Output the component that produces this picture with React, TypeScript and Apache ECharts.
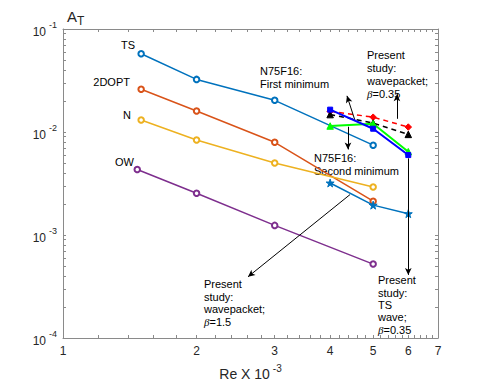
import React, { useEffect, useRef } from 'react';
import * as echarts from 'echarts';

// ---- data (Re x 10^-3 vs A_T) ----
const reRef = [1.5, 2, 3, 5];
const reOW = [1.47, 2, 3, 5];
const tsVals = [0.0575, 0.0324, 0.0203, 0.00745];
const doptVals = [0.026, 0.016, 0.00794, 0.00213];
const nVals = [0.0131, 0.00837, 0.005, 0.00292];
const owVals = [0.00432, 0.00254, 0.00124, 0.000522];

const rePresent = [4, 5, 6];
const tsWaveVals = [0.0032, 0.00195, 0.00161];
const wpBlueVals = [0.01648, 0.01076, 0.00597];
const wpGreenVals = [0.01143, 0.01202, 0.00644];
const n75RedVals = [0.0159, 0.01393, 0.01117];
const n75BlackVals = [0.01476, 0.01222, 0.00948];

// ---- ticks ----
const xLabelValues = [1, 2, 3, 4, 5, 6, 7];
const xTickValues = [
  1, 1.2, 1.4, 1.6, 1.8, 2, 2.2, 2.4, 2.6, 2.8, 3, 3.2, 3.4, 3.6, 3.8, 4, 4.2, 4.4, 4.6, 4.8,
  5, 5.2, 5.4, 5.6, 5.8, 6, 6.2, 6.4, 6.6, 6.8, 7,
];
const yLabelValues = [0.0001, 0.001, 0.01, 0.1];
const yTickValues = [
  0.0001, 0.0002, 0.0003, 0.0004, 0.0005, 0.0006, 0.0007, 0.0008, 0.0009,
  0.001, 0.002, 0.003, 0.004, 0.005, 0.006, 0.007, 0.008, 0.009,
  0.01, 0.02, 0.03, 0.04, 0.05, 0.06, 0.07, 0.08, 0.09, 0.1,
];

// ---- arrows (data coordinates: [from, to]) ----
const arrows: number[][][] = [
  [[4.55, 0.01294], [4.365, 0.02244]],
  [[4.388, 0.01125], [4.388, 0.00677]],
  [[5.657, 0.01343], [5.657, 0.02328]],
  [[4.435, 0.00247], [2.612, 0.000393]],
  [[6, 0.00555], [6, 0.00041]],
];

const FONT = '"Liberation Sans", Arial, Helvetica, sans-serif';
const AXIS_COLOR = '#8a8a8a';
const TEXT_COLOR = '#262626';
const STAR = 'path://M50,0 L61,35 L98,35 L68,57 L79,91 L50,70 L21,91 L32,57 L2,35 L39,35 Z';

const pairs = (xs: number[], ys: number[]) => xs.map((x, i) => [x, ys[i]]);

export default function App() {
  const ref = useRef<HTMLDivElement>(null);
  useEffect(() => {
    if (!ref.current) return;
    const chart = echarts.init(ref.current, null, { renderer: 'svg' });

    const ref4 = (name: string, xs: number[], ys: number[], color: string) => ({
      type: 'line',
      name,
      data: pairs(xs, ys),
      symbol: 'emptyCircle',
      symbolSize: 5.5,
      lineStyle: { color, width: 1.5 },
      itemStyle: { color, borderWidth: 1.3 },
      z: 2,
    });

    const present = (
      name: string, ys: number[], color: string, symbol: string, size: number,
      dashed: boolean, width: number, z: number
    ) => ({
      type: 'line',
      name,
      data: pairs(rePresent, ys),
      symbol,
      symbolSize: size,
      lineStyle: { color, width, type: dashed ? [5, 4] : 'solid' },
      itemStyle: { color, borderColor: color, borderWidth: 1 },
      z,
    });

    const xAxisBase = {
      type: 'log',
      logBase: 10,
      min: 1,
      max: 7,
      axisLine: { show: true, onZero: false, lineStyle: { color: AXIS_COLOR, width: 1 } },
      axisTick: { show: true, inside: true, length: 3, customValues: xTickValues, lineStyle: { color: AXIS_COLOR } },
      splitLine: { show: false },
      minorTick: { show: false },
      minorSplitLine: { show: false },
    };
    const yAxisBase = {
      type: 'log',
      logBase: 10,
      min: 0.0001,
      max: 0.1,
      axisLine: { show: true, onZero: false, lineStyle: { color: AXIS_COLOR, width: 1 } },
      axisTick: { show: true, inside: true, length: 3, customValues: yTickValues, lineStyle: { color: AXIS_COLOR } },
      splitLine: { show: false },
      minorTick: { show: false },
      minorSplitLine: { show: false },
    };

    const txt = (text: string, left: number, top: number, align: string = 'left', lineHeight = 12.8) => ({
      type: 'text',
      x: left,
      y: top,
      silent: true,
      style: {
        text,
        fill: '#000',
        font: `11px ${FONT}`,
        fontSize: 11,
        fontFamily: FONT,
        textAlign: align,
        textVerticalAlign: 'top',
        lineHeight,
        rich: {
          i: { fontStyle: 'italic', fontSize: 11, fontFamily: 'serif', fill: '#000', lineHeight },
          n: { fontSize: 11, fontFamily: FONT, fill: '#000', lineHeight },
        },
      },
    });

    chart.setOption({
      animation: false,
      backgroundColor: '#fff',
      grid: { left: 63, right: 47, top: 29, bottom: 44, containLabel: false },
      xAxis: [
        {
          ...xAxisBase,
          position: 'bottom',
          axisLabel: {
            customValues: xLabelValues,
            color: TEXT_COLOR,
            fontSize: 12,
            fontFamily: FONT,
            margin: 7,
            formatter: (v: number) => String(Math.round(v)),
          },
          name: '{a|Re X 10}{s|-3}',
          nameLocation: 'middle',
          nameGap: 25,
          nameTextStyle: {
            rich: {
              a: { fontSize: 14, fontFamily: FONT, color: TEXT_COLOR, verticalAlign: 'bottom' },
              s: { fontSize: 10, fontFamily: FONT, color: TEXT_COLOR, verticalAlign: 'bottom', padding: [0, 0, 8, 3] },
            },
          },
        },
        { ...xAxisBase, position: 'top', axisLabel: { show: false } },
      ],
      yAxis: [
        {
          ...yAxisBase,
          position: 'left',
          axisLabel: {
            customValues: yLabelValues,
            color: TEXT_COLOR,
            fontFamily: FONT,
            margin: 6,
            formatter: (v: number) => `{b|10}{s|${Math.round(Math.log10(v))}}`,
            rich: {
              b: { fontSize: 12, fontFamily: FONT, color: TEXT_COLOR, verticalAlign: 'bottom' },
              s: { fontSize: 9, fontFamily: FONT, color: TEXT_COLOR, verticalAlign: 'bottom', padding: [0, 0, 8, 3] },
            },
          },
        },
        { ...yAxisBase, position: 'right', axisLabel: { show: false } },
      ],
      series: [
        ref4('TS', reRef, tsVals, '#0072BD'),
        ref4('2DOPT', reRef, doptVals, '#D95319'),
        ref4('N', reRef, nVals, '#EDB120'),
        ref4('OW', reOW, owVals, '#7E2F8E'),
        present('TS wave', tsWaveVals, '#0072BD', STAR, 8, false, 1.5, 3),
        present('N75F16 first', n75RedVals, '#FF0000', 'diamond', 6.5, true, 1.5, 3),
        present('N75F16 second', n75BlackVals, '#000000', 'triangle', 6.5, true, 1.5, 3),
        present('Wavepacket 1.5', wpGreenVals, '#00FF00', 'triangle', 6.5, false, 2, 4),
        present('Wavepacket 0.35', wpBlueVals, '#0000FF', 'rect', 5, false, 2, 5),
        {
          type: 'line',
          name: 'arrows',
          data: [],
          z: 6,
          markLine: {
            silent: true,
            animation: false,
            symbol: ['none', 'arrow'],
            symbolSize: [5, 7],
            label: { show: false },
            lineStyle: { color: '#000', width: 1, type: 'solid' },
            emphasis: { disabled: true },
            data: arrows.map(([a, b]) => [{ coord: a }, { coord: b }]),
          },
        },
      ],
      graphic: [
        {
          type: 'text',
          x: 67,
          y: 6,
          silent: true,
          style: {
            text: '{a|A}{t|T}',
            rich: {
              a: { fontSize: 15, fontFamily: FONT, fill: TEXT_COLOR },
              t: { fontSize: 12, fontFamily: FONT, fill: TEXT_COLOR, padding: [9, 0, 0, 0] },
            },
          },
        },
        txt('TS', 135, 39, 'right'),
        txt('2DOPT', 130, 75.5, 'right'),
        txt('N', 131, 109, 'right'),
        txt('OW', 134, 156, 'right'),
        txt('N75F16:\nFirst minimum', 260, 64.5),
        txt('N75F16:\nSecond minimum', 314, 151.5),
        txt('{n|Present}\n{n|study:}\n{n|wavepacket;}\n{i|β}{n|=0.35}', 367, 48.5, 'left', 13),
        txt('{n|Present}\n{n|study:}\n{n|TS}\n{n|wave;}\n{i|β}{n|=0.35}', 378, 274, 'left', 12.4),
        txt('{n|Present}\n{n|study:}\n{n|wavepacket;}\n{i|β}{n|=1.5}', 204, 277.5, 'left', 12.7),
      ],
    });
    return () => chart.dispose();
  }, []);
  return (
    <div
      ref={ref}
      style={{ position: 'fixed', left: 0, top: 0, width: 485, height: 386, background: '#fff' }}
    />
  );
}
